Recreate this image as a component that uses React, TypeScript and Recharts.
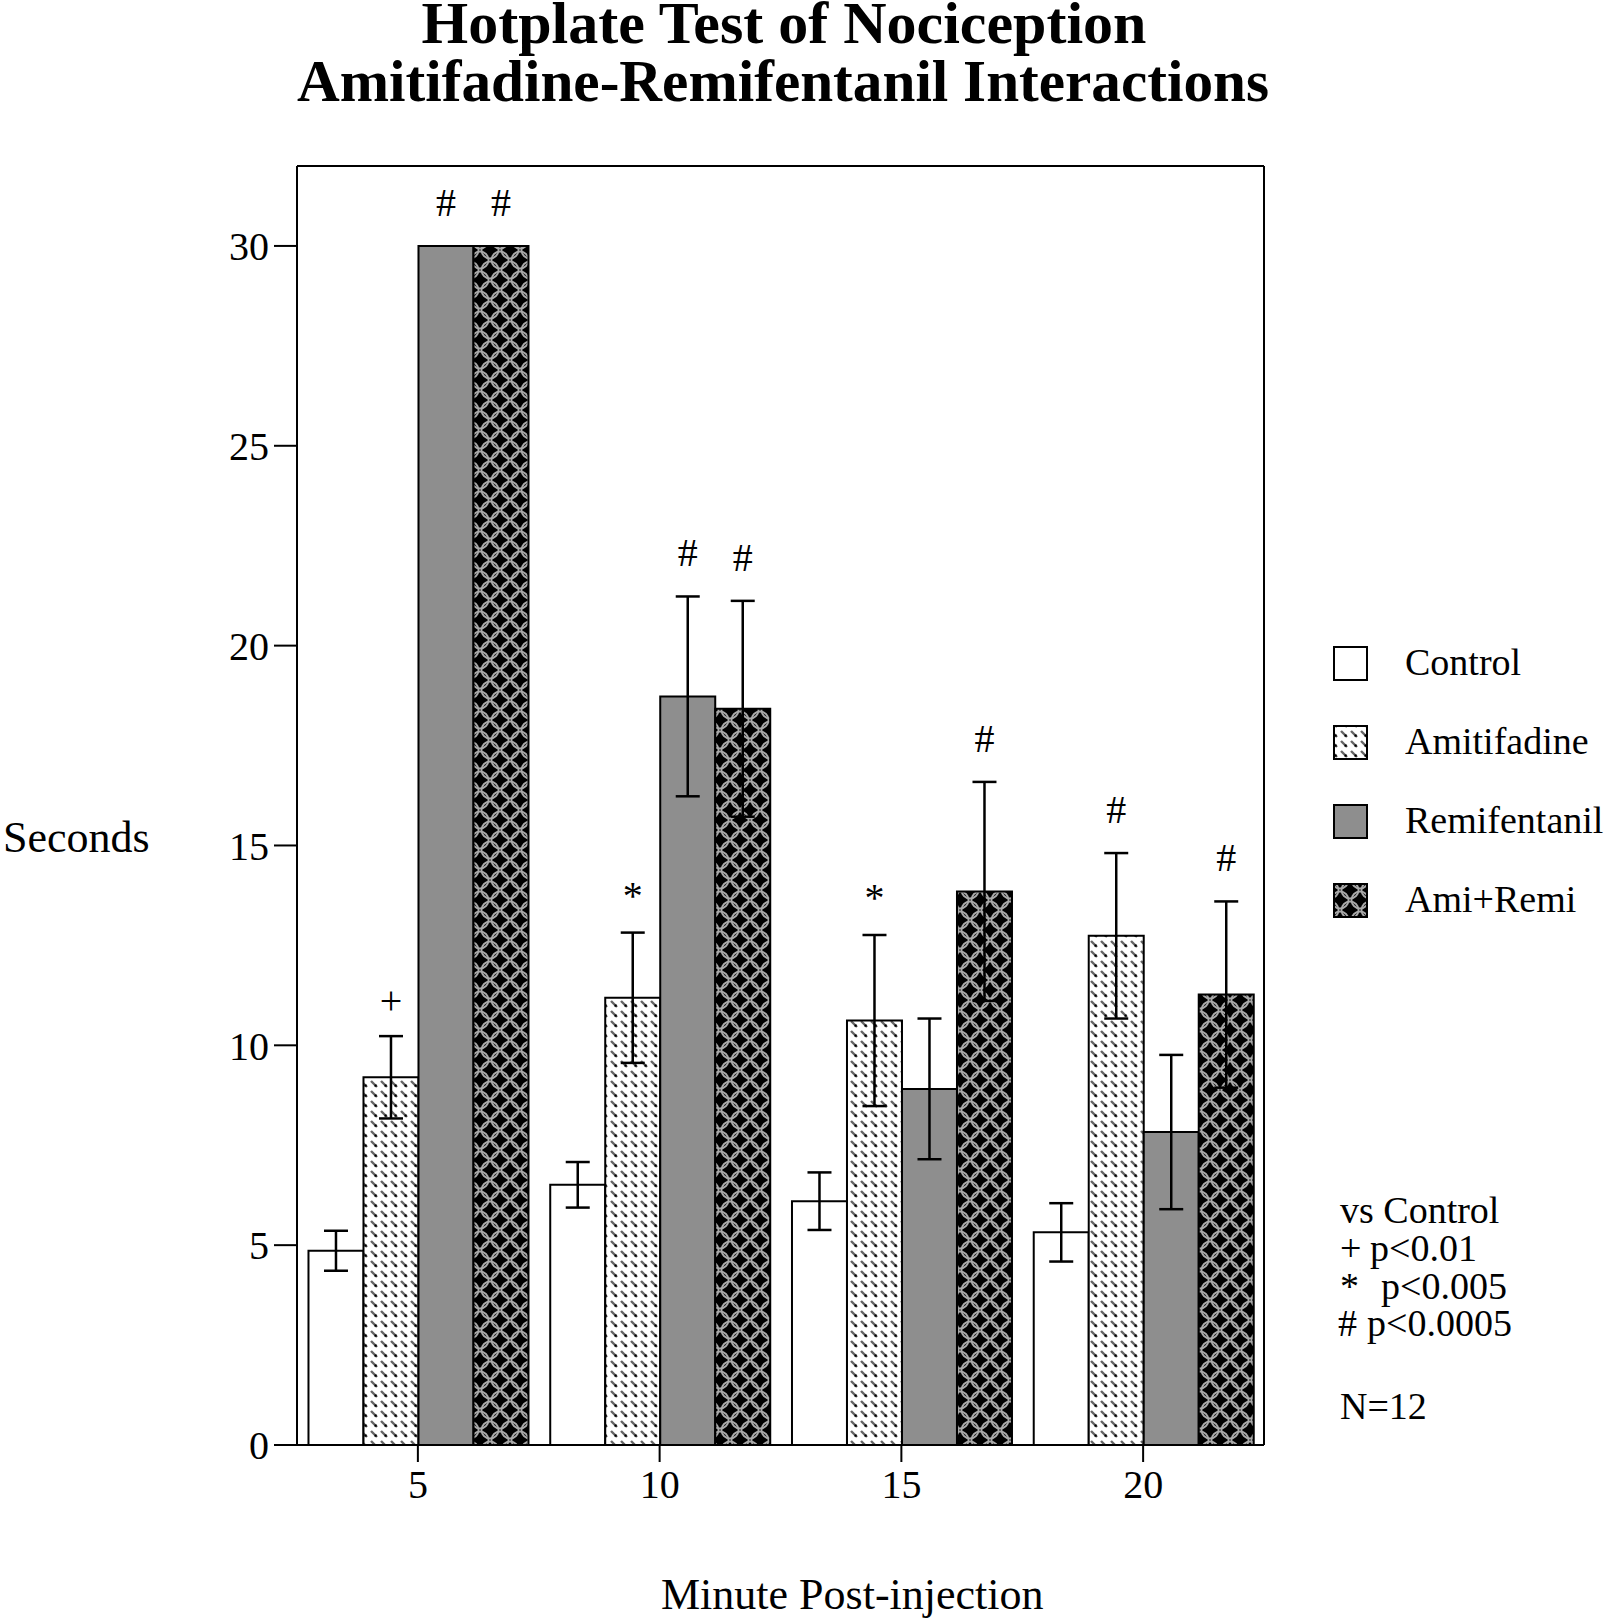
import React from "react";
import { BarChart, Bar, XAxis, YAxis, ErrorBar, LabelList } from "recharts";

// categories (minutes post-injection)
const minutes = ["5", "10", "15", "20"];

// mean latency (s) and SEM per treatment
const control = [4.86, 6.51, 6.1, 5.32];
const controlSem = [0.5, 0.57, 0.72, 0.73];
const amitifadine = [9.2, 11.19, 10.62, 12.74];
const amitifadineSem = [1.03, 1.63, 2.14, 2.07];
const remifentanil = [30, 18.73, 8.91, 7.83];
const remifentanilSem = [null, 2.5, 1.76, 1.93];
const amiRemi = [30, 18.42, 13.85, 11.27];
const amiRemiSem = [null, 2.7, 2.74, 2.33];

// significance markers vs control
const amitifadineMarks = ["+", "*", "*", "#"];
const remifentanilMarks = ["#", "#", "", ""];
const amiRemiMarks = ["#", "#", "#", "#"];

const yTicks = [0, 5, 10, 15, 20, 25, 30];

const legendItems = [
  { name: "Control", fill: "#ffffff" },
  { name: "Amitifadine", fill: "url(#amiPat)" },
  { name: "Remifentanil", fill: "#8e8e8e" },
  { name: "Ami+Remi", fill: "url(#latticePat)" },
];

const data = minutes.map((m, i) => ({
  minute: m,
  control: control[i],
  controlSem: controlSem[i],
  amitifadine: amitifadine[i],
  amitifadineSem: amitifadineSem[i],
  amitifadineMark: amitifadineMarks[i],
  remifentanil: remifentanil[i],
  remifentanilSem: remifentanilSem[i],
  remifentanilMark: remifentanilMarks[i],
  amiRemi: amiRemi[i],
  amiRemiSem: amiRemiSem[i],
  amiRemiMark: amiRemiMarks[i],
}));

const FONT = "'Liberation Serif', 'Times New Roman', serif";
const MARK_DY: Record<string, number> = { "#": 30, "+": 22, "*": 24 };

// marker above the error bar; pixel per unit taken from the bar's own geometry
const markContent = (props: any) => {
  const vb = props.viewBox ?? {};
  const x = Number(props.x ?? vb.x);
  const y = Number(props.y ?? vb.y);
  const w = Number(props.width ?? vb.width);
  const h = Number(props.height ?? vb.height);
  const [mark, err, val] = String(props.value ?? "").split("|");
  if (!mark) return null;
  const ppu = Number(val) ? h / Number(val) : 0;
  const top = y - (Number(err) || 0) * ppu;
  return (
    <text x={x + w / 2} y={top - (MARK_DY[mark] ?? 28)} textAnchor="middle" fontFamily={FONT} fontSize={40} fill="#000">
      {mark}
    </text>
  );
};

const axisLine = { stroke: "#000", strokeWidth: 2 };
const tickStyle = { fill: "#000", fontSize: 40, fontFamily: FONT };

export default function App() {
  return (
    <div style={{ position: "absolute", left: 0, top: 0, width: 1606, height: 1620, background: "#fff" }}>
      <svg width={0} height={0} style={{ position: "absolute" }}>
        <defs>
          <pattern id="amiPat" patternUnits="userSpaceOnUse" width={10} height={10}>
            <rect width={10} height={10} fill="#fff" />
            <path d="M1,1 L7,7" stroke="#666" strokeWidth={2.4} />
            <rect x={4.5} y={4.5} width={2.2} height={2.2} fill="#000" />
          </pattern>
          <pattern id="latticePat" patternUnits="userSpaceOnUse" width={20} height={20}>
            <rect width={20} height={20} fill="#000" />
            <circle cx={10} cy={10} r={8.5} fill="none" stroke="#a8a8a8" strokeWidth={1.8} />
            <circle cx={0} cy={0} r={8.5} fill="none" stroke="#a8a8a8" strokeWidth={1.8} />
            <circle cx={20} cy={0} r={8.5} fill="none" stroke="#a8a8a8" strokeWidth={1.8} />
            <circle cx={0} cy={20} r={8.5} fill="none" stroke="#a8a8a8" strokeWidth={1.8} />
            <circle cx={20} cy={20} r={8.5} fill="none" stroke="#a8a8a8" strokeWidth={1.8} />
          </pattern>
        </defs>
      </svg>

      <BarChart
        width={1606}
        height={1620}
        data={data}
        margin={{ top: 165, right: 340, bottom: 115, left: 217 }}
        barCategoryGap="4.75%"
        barGap={0}
      >
        <XAxis
          dataKey="minute"
          axisLine={axisLine}
          tickLine={axisLine}
          tickSize={17}
          tickMargin={8}
          tick={tickStyle}
          height={60}
        />
        <XAxis xAxisId="top" dataKey="minute" orientation="top" axisLine={axisLine} tick={false} tickLine={false} height={1} />
        <YAxis
          domain={[0, 32]}
          ticks={yTicks}
          axisLine={axisLine}
          tickLine={axisLine}
          tickSize={23}
          tickMargin={5}
          tick={tickStyle}
          width={80}
          allowDataOverflow
        />
        <YAxis yAxisId="right" orientation="right" domain={[0, 32]} axisLine={axisLine} tick={false} tickLine={false} width={2} />

        <Bar dataKey="control" fill="#fff" stroke="#000" strokeWidth={2} isAnimationActive={false}>
          <ErrorBar dataKey="controlSem" width={12} stroke="#000" strokeWidth={2.5} direction="y" />
        </Bar>
        <Bar dataKey="amitifadine" fill="url(#amiPat)" stroke="#000" strokeWidth={2} isAnimationActive={false}>
          <ErrorBar dataKey="amitifadineSem" width={12} stroke="#000" strokeWidth={2.5} direction="y" />
          <LabelList
            dataKey={(d: any) => `${d.amitifadineMark}|${d.amitifadineSem ?? 0}|${d.amitifadine}`}
            content={markContent}
          />
        </Bar>
        <Bar dataKey="remifentanil" fill="#8e8e8e" stroke="#000" strokeWidth={2} isAnimationActive={false}>
          <ErrorBar dataKey="remifentanilSem" width={12} stroke="#000" strokeWidth={2.5} direction="y" />
          <LabelList
            dataKey={(d: any) => `${d.remifentanilMark}|${d.remifentanilSem ?? 0}|${d.remifentanil}`}
            content={markContent}
          />
        </Bar>
        <Bar dataKey="amiRemi" fill="url(#latticePat)" stroke="#000" strokeWidth={2} isAnimationActive={false}>
          <ErrorBar dataKey="amiRemiSem" width={12} stroke="#000" strokeWidth={2.5} direction="y" />
          <LabelList
            dataKey={(d: any) => `${d.amiRemiMark}|${d.amiRemiSem ?? 0}|${d.amiRemi}`}
            content={markContent}
          />
        </Bar>
      </BarChart>

      <svg
        width={1606}
        height={1620}
        style={{ position: "absolute", left: 0, top: 0, pointerEvents: "none" }}
        fontFamily={FONT}
      >
        <text x={784} y={43} textAnchor="middle" fontSize={59} fontWeight="bold" textLength={725} lengthAdjust="spacingAndGlyphs">
          Hotplate Test of Nociception
        </text>
        <text x={783} y={101} textAnchor="middle" fontSize={59} fontWeight="bold" textLength={972} lengthAdjust="spacingAndGlyphs">
          Amitifadine-Remifentanil Interactions
        </text>

        <text x={3} y={852} fontSize={44}>Seconds</text>
        <text x={661} y={1609} fontSize={44}>Minute Post-injection</text>

        {legendItems.map((it, i) => (
          <g key={it.name}>
            <rect x={1334} y={647 + i * 79} width={33} height={33} fill={it.fill} stroke="#000" strokeWidth={2} />
            <text x={1405} y={675 + i * 79} fontSize={38}>{it.name}</text>
          </g>
        ))}

        <g fontSize={38}>
          <text x={1340} y={1223}>vs Control</text>
          <text x={1340} y={1261}>+</text>
          <text x={1370} y={1261}>p&lt;0.01</text>
          <text x={1340} y={1299}>*</text>
          <text x={1381} y={1299}>p&lt;0.005</text>
          <text x={1338} y={1336}>#</text>
          <text x={1367} y={1336}>p&lt;0.0005</text>
          <text x={1340} y={1419}>N=12</text>
        </g>
      </svg>
    </div>
  );
}
